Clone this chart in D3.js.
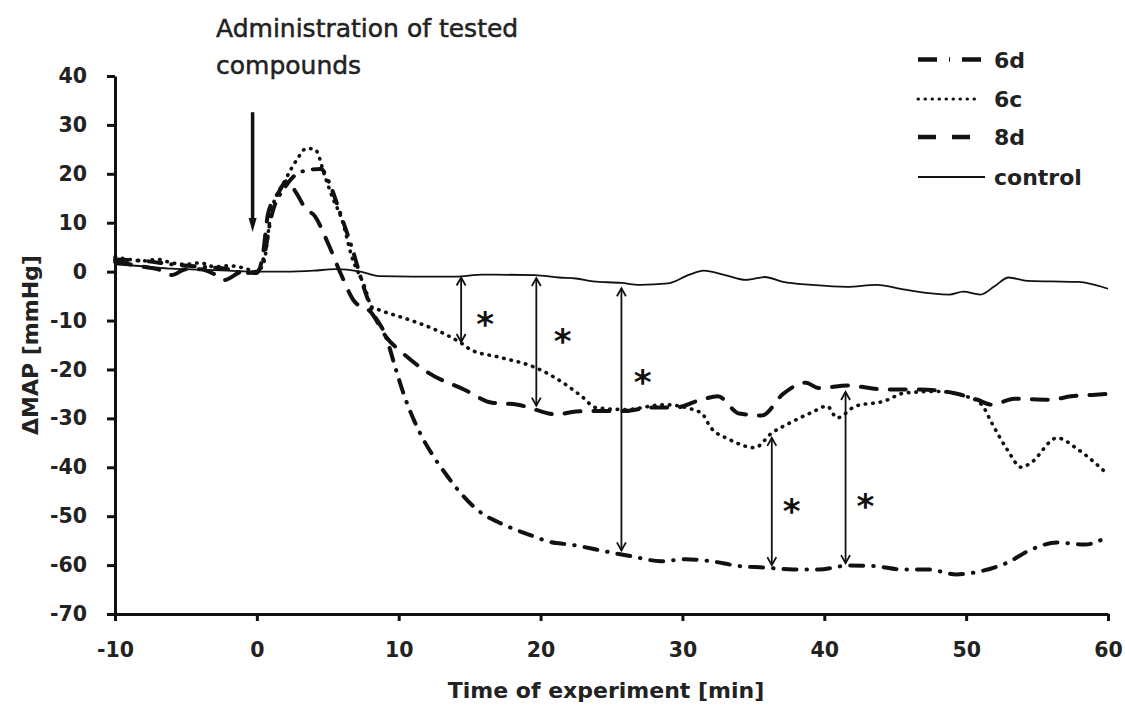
<!DOCTYPE html>
<html>
<head>
<meta charset="utf-8">
<script src="https://cdn.jsdelivr.net/npm/d3@7"></script>
<style>
  body { margin: 0; background: #fff; }
  svg { display: block; }
  .axis path, .axis line { stroke: #111; stroke-width: 3px; }
  .axis text { font-family: "DejaVu Sans", sans-serif; font-weight: bold; font-size: 20.5px; fill: #222; }
</style>
</head>
<body>
<div id="chart"></div>
<script>
// minutes vs change of mean arterial pressure, [t, value]
var series6d = [[-10,2.5],[-8,2.2],[-6,1.5],[-4,1],[-2,0.5],[-1,-0.3],[0,0],[0.5,3],[1,11],[2,17.3],[3.2,20.5],[4.5,21],[5.2,17.5],
  [5.8,12.6],[6.9,3],[7.3,-1],[8.1,-7.8],[9.1,-13.3],[9.8,-20],[10.3,-24.6],[11.5,-33],[12.5,-38],[13.3,-41.3],[14,-44],
  [15.9,-49.5],[17,-51.2],[19.4,-54],[20.7,-55.3],[22.1,-55.8],[24.4,-57.1],[26.4,-58.2],[28.5,-59.2],[30.2,-58.8],[32,-59.2],
  [34,-60.2],[35.8,-60.5],[37.8,-60.9],[39.6,-60.9],[41.7,-60.1],[43.5,-60.2],[45.5,-60.9],[47.3,-60.9],[49.3,-61.9],
  [51.1,-61.2],[52.9,-59.5],[54.6,-56.8],[56.4,-55.4],[58.4,-55.8],[60,-54.1]];

var series6c = [[-10,3],[-9,2.5],[-8,2.2],[-7,2.5],[-6,1.8],[-5,1.5],[-4,1.8],[-3,1],[-2,1.2],[-1,0.8],[0,0],[0.5,2],[1,12],
  [2,18.7],[2.8,22.8],[3.5,25.2],[4.1,25],[4.8,19.5],[5.3,15.4],[6,10.6],[6.7,3],[7.6,-3.1],[8.1,-7.2],[8.6,-7.8],[10.8,-9.9],
  [12.6,-11.9],[14.4,-14.6],[15.1,-16],[17.1,-17.5],[19.7,-19.7],[21.2,-22],[22.9,-25.5],[23.9,-27.8],[26,-28.2],[28.7,-27.2],
  [31.3,-28.8],[32,-31.9],[33.3,-34.3],[35.1,-36],[36.3,-33],[37.6,-30.9],[39.1,-28.8],[40.2,-27.5],[40.9,-29.9],[42.2,-27.5],
  [44.2,-26.5],[45.7,-24.8],[48,-24.5],[50,-25.5],[51.1,-27.2],[51.8,-30.9],[52.9,-36.4],[53.9,-40],[54.6,-39],[56.4,-34],
  [57.9,-36.4],[60,-41.5]];

var series8d = [[-10,2],[-9,1.5],[-8,1],[-7,0.5],[-6,-0.7],[-5,0.5],[-4,0.5],[-3,-0.5],[-2.3,-1.7],[-1,0],[0,-0.3],[0.4,3],
  [0.8,12],[1.5,16],[2.1,18.5],[2.8,16],[3.4,13],[4.1,11.3],[5,5.9],[6,-1],[6.8,-5.8],[8.1,-8.5],[9.1,-13.3],[10.3,-16.7],
  [12.1,-20.7],[14.6,-24.1],[16.6,-26.8],[18.4,-27.2],[19.6,-28.2],[21.1,-29.2],[22.5,-28.6],[23.9,-28.5],[26,-28.5],
  [27.7,-27.8],[29.5,-27.8],[31,-26.5],[32.5,-25.5],[34,-29],[35.6,-29.4],[37.1,-25],[38.7,-22.7],[39.6,-23.8],[41.7,-23.3],
  [44.2,-24.1],[46.7,-24.1],[49.1,-24.8],[50.8,-26.2],[51.8,-27.2],[53.4,-26],[55.9,-26.2],[57.4,-25.5],[58.9,-25.2],[60,-25]];

var seriesControl = [[-10,1.5],[-8,1.1],[-6,0.6],[-4,0.4],[-2,0.2],[0,0],[2,0],[4,0.2],[5.5,0.5],[7.3,0],[8.6,-0.9],[11,-1],
  [14,-1],[15.9,-0.6],[19.6,-0.7],[21.3,-1.2],[22.5,-1.4],[23.7,-2],[25.7,-2.3],[27,-2.7],[29,-2.4],[30.5,-0.6],[31.5,0.2],
  [33,-0.7],[34.5,-1.7],[35.8,-1.1],[37.1,-2.1],[39.1,-2.7],[41.6,-3.1],[43.7,-2.7],[45.7,-3.7],[48.8,-4.7],[49.8,-4.1],
  [51,-4.7],[52,-3],[53,-1.2],[54.3,-1.9],[56,-2],[57.9,-2.1],[60,-3.5]];

var seriesNames = ["6d", "6c", "8d", "control"];
var xTicks = [-10, 0, 10, 20, 30, 40, 50, 60];
var yTicks = [-70, -60, -50, -40, -30, -20, -10, 0, 10, 20, 30, 40];

// significance arrows: time, from value, to value
var sigArrows = [[14.4, -1.2, -14.4], [19.7, -1.3, -27.4], [25.7, -3.4, -57], [36.3, -34, -60], [41.5, -24.6, -59.6]];
var sigStars = [[16.1, -8.9], [21.55, -12.3], [27.2, -20.7], [37.7, -47], [42.9, -46]];
var doseArrow = [-0.3, 32.6, 8.1];

function init() {
    var w = 1125, h = 706;

    var svg = d3.select("#chart").append("svg")
                .attr("width", w)
                .attr("height", h);

    var x = d3.scaleLinear().domain([-10, 60]).range([115, 1108]);
    var y = d3.scaleLinear().domain([-70, 40]).range([614, 76]);

    var defs = svg.append("defs");
    defs.append("marker")
        .attr("id", "tip")
        .attr("viewBox", "-10 -6 12 12")
        .attr("markerWidth", 12).attr("markerHeight", 12)
        .attr("markerUnits", "userSpaceOnUse")
        .attr("orient", "auto-start-reverse")
        .append("path")
        .attr("d", "M-8,-4.5 L0,0 L-8,4.5")
        .attr("fill", "none").attr("stroke", "#111").attr("stroke-width", 1.8);
    defs.append("marker")
        .attr("id", "bigtip")
        .attr("viewBox", "-2 -6 16 12")
        .attr("markerWidth", 16).attr("markerHeight", 12)
        .attr("markerUnits", "userSpaceOnUse")
        .attr("orient", "auto")
        .append("path")
        .attr("d", "M-1,-4 L13,0 L-1,4 Z")
        .attr("fill", "#111");

    // axes (plain hyphen minus like the original)
    svg.append("g")
       .attr("class", "axis")
       .attr("transform", "translate(" + x(-10) + ",0)")
       .call(d3.axisLeft(y).tickValues(yTicks).tickFormat(d => String(d))
               .tickSize(8).tickSizeOuter(0).tickPadding(20));

    svg.append("g")
       .attr("class", "axis")
       .attr("transform", "translate(0," + y(-70) + ")")
       .call(d3.axisBottom(x).tickValues(xTicks).tickFormat(d => String(d))
               .tickSize(7).tickSizeOuter(0).tickPadding(21));

    // lines
    var line = d3.line()
                 .x(d => x(d[0]))
                 .y(d => y(d[1]))
                 .curve(d3.curveMonotoneX);

    var styles = {
        "6d": { dash: "13,10,0.5,10", width: 4 },
        "6c": { dash: "0.5,7", width: 3.6 },
        "8d": { dash: "16,13", width: 4 },
        "control": { dash: null, width: 1.8 }
    };
    var dataByName = { "6d": series6d, "6c": series6c, "8d": series8d, "control": seriesControl };

    seriesNames.slice().reverse().forEach(function(name) {
        svg.append("path")
           .datum(dataByName[name])
           .attr("d", line)
           .attr("fill", "none")
           .attr("stroke", "#111")
           .attr("stroke-width", styles[name].width)
           .attr("stroke-linecap", name == "control" ? "butt" : "round")
           .attr("stroke-dasharray", styles[name].dash);
    });

    // significance arrows and stars
    svg.selectAll(".sig")
       .data(sigArrows)
       .enter().append("line")
       .attr("x1", d => x(d[0])).attr("x2", d => x(d[0]))
       .attr("y1", d => y(d[1])).attr("y2", d => y(d[2]))
       .attr("stroke", "#111").attr("stroke-width", 1.8)
       .attr("marker-start", "url(#tip)")
       .attr("marker-end", "url(#tip)");

    svg.selectAll(".star")
       .data(sigStars)
       .enter().append("text")
       .attr("x", d => x(d[0])).attr("y", d => y(d[1]))
       .attr("dy", "0.62em")
       .attr("text-anchor", "middle")
       .style("font-family", "DejaVu Sans, sans-serif")
       .style("font-weight", "bold")
       .style("font-size", "34px")
       .style("fill", "#111")
       .text("*");

    svg.append("line")
       .attr("x1", x(doseArrow[0])).attr("x2", x(doseArrow[0]))
       .attr("y1", y(doseArrow[1])).attr("y2", y(doseArrow[2]) - 13)
       .attr("stroke", "#111").attr("stroke-width", 3.5)
       .attr("marker-end", "url(#bigtip)");

    // texts
    var note = svg.append("text")
                  .attr("x", 216).attr("y", 37)
                  .style("font-family", "DejaVu Sans, sans-serif")
                  .style("font-size", "25px")
                  .style("fill", "#222")
                  .style("stroke", "#222")
                  .style("stroke-width", 0.5);
    note.append("tspan").attr("x", 216).text("Administration of tested");
    note.append("tspan").attr("x", 216).attr("y", 74).text("compounds");

    svg.append("text")
       .attr("transform", "translate(38,345) rotate(-90)")
       .attr("text-anchor", "middle")
       .style("font-family", "DejaVu Sans, sans-serif")
       .style("font-weight", "bold")
       .style("font-size", "22px")
       .style("fill", "#222")
       .text("\u0394MAP [mmHg]");

    svg.append("text")
       .attr("x", 606).attr("y", 698)
       .attr("text-anchor", "middle")
       .style("font-family", "DejaVu Sans, sans-serif")
       .style("font-weight", "bold")
       .style("font-size", "22px")
       .style("fill", "#222")
       .text("Time of experiment [min]");

    // legend
    var legendY = [59.5, 99, 137, 177];
    var legendLen = [69, 60, 53, 67];
    var legendDash = { "6d": "19,12,1,12", "6c": "0.5,6.5", "8d": "18,16", "control": null };
    var lg = svg.append("g");
    seriesNames.forEach(function(name, i) {
        lg.append("line")
          .attr("x1", 918).attr("x2", 918 + legendLen[i])
          .attr("y1", legendY[i]).attr("y2", legendY[i])
          .attr("stroke", "#111")
          .attr("stroke-width", name == "control" ? 1.8 : (name == "6c" ? 3 : 4.5))
          .attr("stroke-linecap", name == "6c" ? "round" : "butt")
          .attr("stroke-dasharray", legendDash[name]);
        lg.append("text")
          .attr("x", 994).attr("y", legendY[i] + 8)
          .style("font-family", "DejaVu Sans, sans-serif")
          .style("font-weight", "bold")
          .style("font-size", "22px")
          .style("fill", "#222")
          .text(name);
    });
}

window.onload = init;
</script>
</body>
</html>
